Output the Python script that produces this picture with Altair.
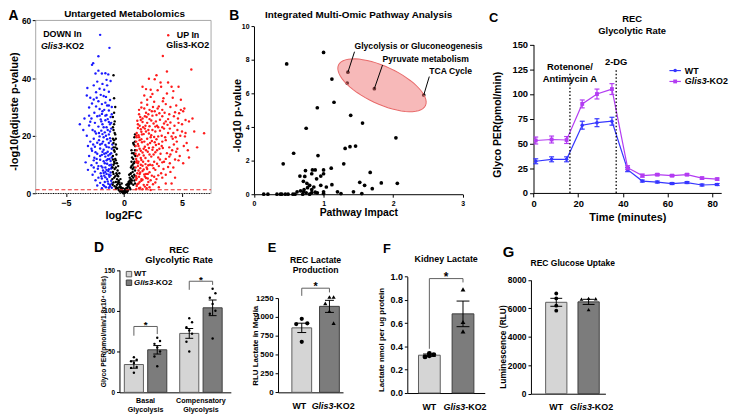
import math
import altair as alt
import pandas as pd

FONT = "Liberation Sans"
W, H = 735, 412
MARGIN = 8
BLUE_PT = "#1c1cff"
RED_PT = "#ff1c1c"
WT_LINE = "#3636ff"
KO_LINE = "#b33cf2"
WT_FILL, WT_EDGE = "#d5d5d5", "#5e5e5e"
KO_FILL, KO_EDGE = "#7c7c7c", "#3e3e3e"
BRACKET = "#606060"

# ---------------- Panel A: volcano (log2FC, -log10 adj p) ----------------
down_points = [
    (-2.05, 55.0), (-1.25, 50.5), (-2.2, 47.6), (-2.65, 45.2), (-2.75, 44.6), (-2.2, 42.6), (-2.45, 41.6), (-1.9, 41.6),
    (-1.6, 41.7), (-1.35, 41.3), (-1.5, 39.4), (-2.3, 38.8), (-1.85, 38.0), (-3.15, 36.6), (-2.1, 36.3), (-1.7, 36.0),
    (-1.3, 35.3), (-2.4, 35.1), (-3.2, 34.0), (-2.9, 33.2), (-2.0, 34.2), (-1.55, 33.5), (-2.6, 32.6), (-2.2, 32.0),
    (-1.2, 32.4), (-2.75, 31.2), (-1.9, 31.0), (-1.45, 30.5), (-2.4, 30.2), (-3.0, 29.8), (-2.1, 29.3), (-1.7, 29.0),
    (-1.3, 28.8), (-2.55, 28.0), (-1.9, 27.6), (-1.5, 27.2), (-3.8, 24.0), (-2.3, 26.8), (-1.15, 26.5), (-2.8, 26.0),
    (-2.0, 25.7), (-1.6, 25.4), (-1.3, 24.8), (-2.5, 24.5), (-1.85, 24.0), (-3.0, 23.6), (-2.2, 23.2), (-1.5, 23.0),
    (-1.1, 22.5), (-2.7, 22.0), (-1.95, 21.8), (-1.65, 21.2), (-2.4, 20.8), (-1.3, 20.5), (-3.2, 20.0), (-2.1, 19.8),
    (-1.75, 19.5), (-2.6, 19.0), (-1.45, 18.8), (-1.15, 18.2), (-2.9, 18.0), (-2.3, 17.6), (-1.9, 17.3), (-1.6, 16.8),
    (-3.1, 16.5), (-2.5, 16.2), (-1.3, 16.0), (-2.05, 15.6), (-1.75, 15.2), (-2.75, 14.8), (-1.4, 14.5), (-1.1, 14.0),
    (-2.3, 13.8), (-1.9, 13.4), (-3.0, 13.0), (-1.6, 12.8), (-2.55, 12.4), (-1.25, 12.0), (-2.05, 11.7), (-1.75, 11.2),
    (-3.3, 10.8), (-2.35, 10.6), (-1.45, 10.3), (-1.1, 10.0), (-2.8, 9.8), (-1.95, 9.5), (-1.6, 9.0), (-2.25, 8.6),
    (-1.3, 8.4), (-3.1, 8.2), (-1.8, 8.0), (-2.5, 7.6), (-1.15, 7.3), (-2.0, 7.0), (-1.5, 6.8), (-2.7, 6.5),
    (-1.7, 6.2), (-1.25, 5.8), (-2.2, 5.5), (-1.9, 5.2), (-1.45, 5.0), (-2.45, 4.6), (-1.1, 4.4), (-1.65, 4.0),
    (-2.05, 3.7), (-1.35, 3.4), (-1.8, 3.0), (-2.3, 2.8), (-1.2, 2.5), (-1.55, 2.2), (-1.05, 2.0), (-1.9, 1.8),
    (-2.6, 11.5), (-2.9, 24.9), (-3.4, 26.0), (-1.05, 30.0), (-1.0, 17.0), (-1.2, 21.5), (-1.35, 13.2), (-2.15, 21.0),
    (-2.45, 14.3), (-1.85, 28.5), (-1.6, 31.5), (-2.05, 17.0), (-2.65, 17.0), (-1.7, 13.8), (-1.4, 25.8), (-1.05, 12.5),
    (-1.95, 6.0), (-1.3, 6.5), (-1.6, 7.5), (-2.2, 9.5), (-1.1, 8.7), (-1.5, 11.5),
    (-1.2, 3.0), (-1.4, 4.2), (-1.6, 5.6), (-1.15, 6.3), (-1.35, 7.8), (-1.75, 7.1), (-1.05, 9.2), (-1.25, 9.8),
    (-1.5, 8.2), (-1.85, 9.0), (-1.15, 11.3), (-1.4, 11.9), (-1.65, 10.5), (-1.2, 13.6), (-1.55, 14.0), (-1.85, 14.5),
    (-1.05, 15.5), (-1.3, 17.5), (-1.5, 16.2), (-1.8, 18.0), (-1.2, 19.2), (-1.55, 20.0), (-1.85, 20.6), (-1.4, 22.0),
    (-1.75, 23.0), (-1.2, 24.0), (-1.6, 27.0), (-1.3, 30.5), (-2.1, 27.0), (-2.5, 21.5), (-2.8, 15.5), (-2.35, 12.0),
    (-2.6, 9.0), (-2.05, 13.0), (-2.15, 18.5), (-1.95, 25.0), (-2.35, 33.2), (-1.75, 33.8), (-1.45, 37.5), (-1.15, 39.0),
    (-2.6, 37.5), (-3.5, 22.0), (-3.0, 27.0), (-1.05, 3.5), (-1.3, 2.0), (-1.7, 2.6), (-1.1, 24.5), (-1.05, 27.5),
]
ns_points = [
    (-0.9, 41.0), (-0.85, 28.0), (-0.95, 26.5), (-0.8, 25.0), (-0.9, 22.0), (-0.75, 20.5), (-0.95, 19.0), (-0.85, 18.5),
    (-0.7, 17.0), (-0.9, 16.0), (-0.8, 14.5), (-0.65, 13.5), (-0.95, 13.0), (-0.75, 12.0), (-0.85, 11.0), (-0.6, 10.5),
    (-0.9, 10.0), (-0.7, 9.0), (-0.8, 8.5), (-0.55, 8.0), (-0.95, 7.5), (-0.65, 7.0), (-0.75, 6.0), (-0.5, 6.0),
    (-0.85, 5.5), (-0.6, 5.0), (-0.45, 4.5), (-0.7, 4.0), (-0.9, 3.8), (-0.5, 3.5), (-0.35, 3.0), (-0.6, 3.0),
    (-0.8, 2.5), (-0.4, 2.2), (-0.25, 2.0), (-0.55, 1.8), (-0.3, 1.4), (-0.15, 1.0), (-0.45, 1.2), (-0.7, 1.6),
    (-0.2, 0.6), (-0.1, 0.4), (0.0, 0.2), (-0.05, 0.1), (0.05, 0.3), (0.1, 0.5), (0.15, 0.8), (0.2, 1.0),
    (0.25, 1.5), (0.3, 2.0), (0.35, 1.2), (0.4, 2.6), (0.45, 3.2), (0.5, 2.0), (0.55, 4.0), (0.6, 5.0),
    (0.65, 3.5), (0.7, 6.0), (0.75, 7.5), (0.8, 5.5), (0.85, 9.0), (0.9, 11.0), (0.95, 8.0), (0.7, 12.5),
    (0.85, 14.0), (0.95, 16.5), (0.8, 17.5), (0.9, 19.5), (0.95, 20.5), (0.75, 10.0), (0.6, 7.0), (0.5, 5.5),
    (0.4, 4.0), (0.9, 4.5), (0.98, 13.0), (-0.98, 9.0), (-1.0, 5.0), (-0.65, 2.2), (0.3, 0.8), (-0.35, 0.7),
    (0.55, 1.5), (0.88, 6.5), (0.65, 9.5), (-0.5, 9.5), (-0.4, 7.0), (-0.3, 5.0), (0.2, 3.0), (-0.2, 3.5),
    (0.45, 6.5), (-0.85, 33.0), (-0.75, 30.0), (-0.6, 15.5), (0.65, 15.0), (0.8, 3.0), (-0.1, 1.8), (0.1, 1.6),
    (-0.9, 6.8), (-0.8, 10.5), (-0.7, 11.5), (-0.95, 11.8), (-0.85, 15.0), (-0.75, 16.0), (-0.9, 17.5), (-0.8, 21.0),
    (-0.7, 19.0), (-0.95, 23.0), (-0.85, 24.0), (-0.6, 6.5), (-0.5, 4.0), (-0.4, 3.8), (-0.3, 2.4), (-0.2, 1.3),
    (-0.1, 0.9), (0.0, 0.6), (0.1, 1.1), (0.2, 1.8), (0.3, 3.3), (0.4, 3.4), (0.5, 4.5), (0.6, 3.8),
    (0.7, 4.5), (0.75, 8.5), (0.85, 10.5), (0.9, 13.5), (0.8, 12.0), (0.95, 15.0), (0.85, 17.0), (0.95, 18.0),
    (0.7, 14.0), (0.6, 9.0), (0.55, 6.8), (0.65, 11.0), (0.35, 2.5), (0.25, 0.5), (-0.25, 0.9), (0.95, 3.5),
    (0.98, 6.0), (-0.97, 3.0),
]
up_points = [
    (3.35, 47.7), (5.8, 43.0), (3.7, 42.3), (2.15, 39.8), (2.65, 39.6), (3.2, 37.0), (4.1, 37.0), (4.7, 37.0),
    (1.75, 34.0), (2.3, 33.5), (3.7, 34.7), (4.2, 33.2), (6.9, 20.9), (6.05, 21.5), (4.4, 5.5),
    (2.9, 35.8), (3.4, 33.0), (1.5, 31.5), (2.0, 30.8), (2.6, 31.8), (3.0, 30.2), (3.6, 31.0), (4.5, 30.5),
    (4.9, 29.0), (5.1, 28.5), (4.75, 27.8), (3.3, 29.0), (2.4, 28.5), (1.9, 28.0), (1.3, 27.5), (2.8, 27.2),
    (3.9, 27.5), (4.3, 26.8), (5.3, 25.5), (1.6, 26.0), (2.2, 25.8), (3.1, 25.6), (3.6, 25.0), (4.0, 24.6),
    (2.55, 24.3), (1.2, 24.0), (1.85, 23.5), (2.95, 23.0), (3.45, 22.5), (4.6, 22.0), (5.0, 21.5), (4.85, 20.0),
    (5.25, 19.8), (4.45, 19.5), (1.45, 22.3), (2.1, 22.0), (2.7, 21.5), (3.8, 21.0), (1.1, 21.0), (1.7, 20.6),
    (2.35, 20.2), (3.25, 20.0), (4.1, 19.8), (1.3, 19.5), (2.0, 19.0), (2.8, 18.8), (3.6, 18.5), (1.05, 18.0),
    (1.55, 17.8), (2.25, 17.5), (3.0, 17.2), (4.3, 17.0), (5.4, 17.5), (5.5, 15.0), (1.25, 16.5), (1.8, 16.2),
    (2.5, 16.0), (3.35, 15.8), (3.9, 16.0), (4.6, 15.5), (1.1, 15.0), (1.45, 14.8), (2.05, 14.5), (2.7, 14.3),
    (3.15, 13.8), (4.0, 13.5), (4.8, 13.0), (1.3, 13.5), (1.7, 13.2), (2.35, 12.8), (2.95, 12.5), (3.6, 12.0),
    (4.4, 11.8), (1.05, 12.0), (1.5, 11.6), (2.1, 11.3), (2.6, 11.0), (3.3, 10.8), (1.2, 10.5), (1.85, 10.2),
    (2.45, 9.8), (3.0, 9.5), (3.8, 9.2), (1.0, 9.0), (1.4, 8.8), (2.0, 8.5), (2.7, 8.2), (1.6, 7.8),
    (2.2, 7.4), (3.2, 7.0), (1.15, 7.0), (1.75, 6.6), (2.4, 6.2), (1.3, 5.8), (1.9, 5.4), (2.8, 5.0),
    (1.05, 4.8), (1.5, 4.4), (2.1, 4.0), (1.25, 3.5), (1.7, 3.0), (2.5, 3.2), (1.1, 2.6), (1.4, 2.0),
    (1.95, 1.8), (1.05, 1.5), (2.3, 1.2), (3.6, 3.5), (3.0, 2.2), (1.6, 24.8), (1.95, 26.5), (2.45, 27.0),
    (3.5, 28.0), (4.65, 26.0), (5.0, 24.0), (4.35, 23.5), (3.75, 23.8), (2.6, 19.6), (3.1, 21.8), (1.35, 18.5),
    (1.9, 21.5), (1.15, 13.0), (1.25, 11.0), (1.6, 9.6), (1.85, 12.3), (2.15, 15.8), (2.4, 18.2), (2.85, 15.0),
    (1.0, 16.5), (1.35, 6.8), (1.5, 5.0), (1.1, 19.5), (1.2, 22.7), (1.4, 26.5), (1.75, 29.5), (2.0, 32.5),
    (2.5, 30.0), (2.75, 25.0), (3.05, 27.8), (3.45, 24.3), (3.95, 22.5), (4.25, 21.0), (4.55, 18.0), (4.15, 15.0),
    (3.7, 14.0), (3.45, 11.0), (3.95, 10.5), (4.25, 9.0), (4.7, 11.5), (5.15, 16.5), (5.6, 25.0), (5.2, 29.5),
    (4.0, 30.0), (3.35, 32.0), (2.3, 36.0), (1.6, 37.0), (2.8, 41.0), (1.7, 15.5), (1.45, 10.0), (1.05, 6.0),
    (1.25, 8.0), (2.05, 6.8), (2.55, 13.5), (3.25, 16.5), (3.55, 19.5), (2.2, 23.3), (1.55, 20.5), (1.3, 29.0),
    (5.9, 26.0), (6.3, 16.0),
    (1.15, 3.2), (1.35, 4.0), (1.6, 4.8), (1.8, 5.9), (2.05, 5.2), (2.3, 4.6), (2.6, 5.8), (1.2, 9.5),
    (1.45, 12.3), (1.65, 11.0), (1.95, 9.0), (2.25, 10.0), (2.55, 8.8), (2.85, 10.3), (3.1, 11.8), (1.1, 11.3),
    (1.35, 15.5), (1.6, 14.2), (1.9, 15.0), (2.2, 13.5), (2.45, 15.2), (2.75, 16.8), (3.05, 15.5), (1.2, 17.2),
    (1.5, 18.8), (1.75, 18.0), (2.05, 17.0), (2.3, 19.5), (2.65, 17.8), (2.95, 19.8), (3.3, 18.0), (1.25, 20.2),
    (1.5, 21.4), (1.8, 22.5), (2.15, 20.8), (2.45, 22.0), (2.85, 23.5), (3.3, 23.0), (1.35, 23.5), (1.65, 23.0),
    (2.0, 24.5), (2.35, 25.3), (2.7, 23.2), (1.45, 25.5), (1.8, 26.8), (2.1, 27.5), (2.65, 28.5), (1.5, 29.8),
    (2.2, 29.0), (2.9, 29.5), (1.05, 10.8), (1.0, 13.8), (1.05, 20.0), (1.15, 25.2), (1.1, 5.3), (1.3, 1.8),
    (1.6, 1.5), (1.8, 2.4), (2.0, 3.0), (2.2, 2.2), (2.7, 3.8), (3.3, 5.5), (3.4, 8.5), (3.6, 6.5),
    (4.0, 7.5), (3.9, 12.8), (4.5, 14.5), (4.2, 19.0), (4.7, 24.5), (3.8, 25.8), (3.3, 26.8), (4.4, 28.2),
    (4.9, 32.5), (4.25, 35.5), (3.15, 38.5), (2.45, 34.5), (1.9, 36.2), (3.8, 38.5), (5.3, 21.0), (5.6, 12.5),
    (5.1, 10.5), (4.1, 3.5), (2.95, 6.3), (2.1, 9.8), (1.7, 8.3), (1.4, 7.3), (1.9, 6.8),
]
p_cutoff = 0.05
A_XDOM = [-7.6, 7.5]
A_YDOM = [0, 60]

# ---------------- Panel B: pathway impact vs -log10 p ----------------
path_impact = [1.0, 0.47, 1.12, 1.34, 1.15, 0.91, 1.39, 1.56, 0.75, 2.04, 1.46, 1.38, 1.31, 0.57, 0.92,
               0.42, 1.29, 1.11, 1.67, 1.0, 1.0, 0.84, 0.88, 0.74, 0.66, 0.73, 0.96, 0.83, 0.9, 0.71,
               0.76, 0.8, 0.77, 0.72, 0.67, 1.52, 1.59, 1.83, 2.06, 1.7, 1.12, 1.04, 0.96, 0.86, 0.83,
               0.88, 0.91, 1.0, 1.0, 1.2, 1.25, 1.43, 1.55, 0.14, 0.2, 0.33, 0.38, 0.4, 0.45, 0.49,
               0.56, 0.59, 0.62, 0.7, 0.75, 0.8, 0.83, 0.71]
path_neglogp = [8.45, 7.76, 6.86, 6.62, 5.48, 5.15, 4.70, 4.24, 3.93, 3.36, 2.87, 2.83, 2.73, 2.44, 2.30,
                1.81, 1.81, 1.55, 1.30, 1.45, 1.22, 1.45, 1.45, 1.41, 1.08, 1.06, 1.08, 1.22, 0.92, 0.77,
                0.65, 0.53, 0.39, 0.28, 0.20, 0.71, 0.53, 0.67, 0.65, 0.33, 0.57, 0.43, 0.53, 0.43, 0.28,
                0.12, 0.08, 0.14, 0.04, 0.14, 0.04, 0.14, 0.04, 0.0, 0.0, 0.0, 0.0, 0.0, 0.0, 0.0,
                0.0, 0.0, 0.14, 0.0, 0.08, 0.0, 0.1, 0.14]
hl_names = ["Glycolysis or Gluconeogenesis", "Pyruvate metabolism", "TCA Cycle"]
hl_impact = [1.35, 1.73, 2.44]
hl_neglogp = [7.27, 6.29, 5.91]
hl_label_impact = [1.445, 1.848, 2.52]
hl_label_neglogp = [8.49, 7.70, 7.01]

# ---------------- Panel C: glycolytic rate time course ----------------
c_time = [1.0, 8.1, 14.8, 21.8, 28.4, 35.1, 42.1, 48.7, 55.4, 62.0, 68.7, 75.4, 82.2]
c_wt = [32, 34, 34, 68.5, 71, 72.5, 23.5, 12, 11, 9.5, 10.5, 8, 8.5]
c_wt_sem = [2.5, 2.5, 2.5, 4, 4, 4, 2, 1, 1, 1, 1, 1, 1]
c_ko = [53, 54, 53.5, 90, 100, 105, 25.5, 17.5, 18.5, 17.5, 18.5, 15, 14]
c_ko_sem = [3.5, 3.5, 3.5, 4, 5, 5.5, 2, 1.5, 1, 1, 1, 1, 1]
inj_names = ["Rotenone/\nAntimycin A", "2-DG"]
inj_time = [16.3, 37.0]
inj_top = [121, 126]

# ---------------- Panel D ----------------
d_groups = ["Basal\nGlycolysis", "Compensatory\nGlycolysis"]
d_wt_mean = [34.1, 72.3]
d_wt_sem = [4.5, 6.0]
d_ko_mean = [52.2, 103.7]
d_ko_sem = [5.2, 9.6]
d_wt_pts = [[43, 40, 38, 36, 31, 30, 24], [91, 86, 80, 76, 72, 62, 50]]
d_ko_pts = [[67, 63, 59.5, 55, 50, 44, 32], [127, 121.5, 116, 108.5, 100, 96.5, 66]]
d_brackets = [(80.8, 69.5, 71.5), (136.3, 125.8, 131.8)]

# ---------------- Panel E ----------------
e_wt_mean, e_wt_sem = [855], [62]
e_ko_mean, e_ko_sem = [1140], [80]
e_wt_pts = [[975, 915, 905, 670]]
e_ko_pts = [[1265, 1265, 1180, 1075, 918]]
e_brackets = [(1381, 1280, 1325)]

# ---------------- Panel F ----------------
f_wt_mean, f_wt_sem = [0.325], [0.01]
f_ko_mean, f_ko_sem = [0.68], [0.11]
f_wt_pts = [[0.34, 0.33, 0.31, 0.32]]
f_ko_pts = [[0.89, 0.61, 0.53]]
f_brackets = [(0.983, 0.38, 0.95)]

# ---------------- Panel G ----------------
g_wt_mean, g_wt_sem = [6430], [280]
g_ko_mean, g_ko_sem = [6460], [180]
g_wt_pts = [[7050, 6700, 6190, 5840]]
g_ko_pts = [[6700, 6680, 6650, 5910]]
g_brackets = []


def pg(v):
    return v - MARGIN


DUMMY = pd.DataFrame({"k": [0]})


def ax(**kw):
    base = dict(grid=False, domainColor="black", tickColor="black", labelColor="black",
                titleColor="black", labelFont=FONT, titleFont=FONT, labelFontWeight="bold",
                titleFontWeight="bold", labelFlush=False, labelOverlap=False, tickSize=4,
                labelPadding=2, titlePadding=4)
    base.update(kw)
    return alt.Axis(**base)


def qs(domain, rng):
    return alt.Scale(domain=domain, range=rng, nice=False, zero=False, padding=0)


def txt(text, x, y, size, align="center", baseline="middle", style="normal", weight="bold",
        color="black", lh=None):
    kw = dict(text=text, align=align, baseline=baseline, fontSize=size, fontWeight=weight,
              fontStyle=style, font=FONT, color=color)
    if "\n" in text:
        kw["lineBreak"] = "\n"
        kw["lineHeight"] = lh or size * 1.2
    return alt.Chart(DUMMY).mark_text(**kw).encode(x=alt.value(pg(x)), y=alt.value(pg(y)))


# ======================= Panel A =======================
vol = pd.DataFrame({
    "fc": [p[0] for p in down_points] + [p[0] for p in ns_points] + [p[0] for p in up_points],
    "nlp": [p[1] for p in down_points] + [p[1] for p in ns_points] + [p[1] for p in up_points],
    "cls": ["down"] * len(down_points) + ["ns"] * len(ns_points) + ["up"] * len(up_points),
})
xA = qs(A_XDOM, [pg(36), pg(213.3)])
yA = qs(A_YDOM, [pg(193.3), pg(18.3)])
axAx = ax(orient="bottom", offset=pg(193.3) - H, values=[-5, 0, 5], title="log2FC", labelFontSize=9,
          titleFontSize=11, domain=False, tickSize=3, titleY=22, titleBaseline="middle")
axAy = ax(orient="left", offset=-pg(36), values=[0, 20, 40, 60], title="-log10(adjuste p-value)",
          labelFontSize=8.5, titleFontSize=11, domain=False, tickSize=3.5, labelPadding=1.5,
          titleX=-21, titleY=pg(110), titleBaseline="middle")


def XA(f):
    return alt.X(f, scale=xA, axis=axAx)


def YA(f):
    return alt.Y(f, scale=yA, axis=axAy)


a_box = pd.DataFrame({"x0": [A_XDOM[0]], "x1": [A_XDOM[1]], "y0": [A_YDOM[0]], "y1": [A_YDOM[1]],
                      "thr": [-math.log10(p_cutoff)]})
A_frame = alt.Chart(a_box).mark_rect(fillOpacity=0, stroke="#a8a8a8", strokeWidth=1).encode(
    x=XA("x0:Q"), x2="x1:Q", y=YA("y0:Q"), y2="y1:Q")
A_pts = alt.Chart(vol).mark_circle(size=6, opacity=1).encode(
    x=XA("fc:Q"), y=YA("nlp:Q"),
    color=alt.Color("cls:N", scale=alt.Scale(domain=["down", "ns", "up"], range=[BLUE_PT, "black", RED_PT]),
                    legend=None))
A_zero = alt.Chart(a_box).mark_rule(color="black", strokeDash=[1, 1.5], strokeWidth=1).encode(
    x=XA("x0:Q"), x2="x1:Q", y=YA("y0:Q"))
A_thr = alt.Chart(a_box).mark_rule(color="#ee2a2a", strokeDash=[4, 2.5], strokeWidth=1.2).encode(
    x=XA("x0:Q"), x2="x1:Q", y=YA("thr:Q"))
panelA = alt.layer(A_frame, A_pts, A_zero, A_thr)

# ======================= Panel B =======================
pb = pd.DataFrame({"impact": path_impact + hl_impact, "nlp": path_neglogp + hl_neglogp})
hl = pd.DataFrame({"name": hl_names, "impact": hl_impact, "nlp": hl_neglogp,
                   "lx": hl_label_impact, "ly": hl_label_neglogp})
xB = qs([0, 3], [pg(256.7), pg(467.7)])
yB = qs([0, 10], [pg(194), pg(24.3)])
axBx = ax(orient="bottom", offset=pg(194) - H, values=[0, 1, 2, 3], title="Pathway Impact", labelFontSize=7,
          titleFontSize=10.5, tickSize=3, titleY=19, titleBaseline="middle")
axBy = ax(orient="left", offset=-pg(256.7), values=[0, 2, 4, 6, 8, 10], title="-log10 p-value",
          labelFontSize=7, titleFontSize=11, tickSize=3, titleX=-16.7, titleY=pg(114), titleBaseline="middle")


def XB(f):
    return alt.X(f, scale=xB, axis=axBx)


def YB(f):
    return alt.Y(f, scale=yB, axis=axBy)


B_pts = alt.Chart(pb).mark_circle(size=14, color="black", opacity=1).encode(x=XB("impact:Q"), y=YB("nlp:Q"))
ELL_RATIO = 0.39
ell_path = "M" + " L".join(
    f"{math.cos(2 * math.pi * i / 60):.4f},{ELL_RATIO * math.sin(2 * math.pi * i / 60):.4f}" for i in range(60)
) + " Z"
B_ell = alt.Chart(hl).transform_aggregate(mx="mean(impact)", my="mean(nlp)").mark_point(
    shape=ell_path, size=9409, angle=25, filled=True, fill="#f07474", fillOpacity=0.5,
    stroke="#e86a6a", strokeWidth=1, opacity=1).encode(x=XB("mx:Q"), y=YB("my:Q"))
B_lead = alt.Chart(hl).mark_rule(color="black", strokeWidth=1).encode(
    x=XB("impact:Q"), y=YB("nlp:Q"), x2="lx:Q", y2="ly:Q")
B_lab = alt.Chart(hl).mark_text(align="left", baseline="bottom", dy=-1, fontSize=8.7,
                                fontWeight="bold", font=FONT, color="black").encode(
    x=XB("lx:Q"), y=YB("ly:Q"), text="name:N")
panelB = alt.layer(B_pts, B_ell, B_lead, B_lab)

# ======================= Panel C =======================
n_t = len(c_time)
cdf = pd.DataFrame({"t": c_time * 2, "v": c_wt + c_ko, "sem": c_wt_sem + c_ko_sem,
                    "g": ["WT"] * n_t + ["KO"] * n_t})
xC = qs([0, 84], [pg(539.3), pg(539.3 + 84 * 2.259)])
yC = qs([0, 150], [pg(192.7), pg(42.7)])
axCx = ax(orient="bottom", offset=pg(192.7) - H, values=[0, 20, 40, 60, 80], title="Time (minutes)",
          labelFontSize=9.5, titleFontSize=11, titleY=24.6, titleBaseline="middle")
axCy = ax(orient="left", offset=-pg(539.3), values=[0, 25, 50, 75, 100, 125, 150], title="Glyco PER(pmol/min)",
          labelFontSize=9.5, titleFontSize=10.5, titleX=-36.3, titleY=pg(123.3), titleBaseline="middle")


def XC(f):
    return alt.X(f, scale=xC, axis=axCx)


def YC(f):
    return alt.Y(f, scale=yC, axis=axCy)


C_layers = []
for g, col, shp, sz in [("WT", WT_LINE, "circle", 13), ("KO", KO_LINE, "square", 15)]:
    base = alt.Chart(cdf).transform_filter(alt.datum.g == g).transform_calculate(
        lo="datum.v - datum.sem", hi="datum.v + datum.sem")
    C_layers.append(base.mark_line(color=col, strokeWidth=1.2).encode(x=XC("t:Q"), y=YC("v:Q")))
    C_layers.append(base.mark_rule(color=col, strokeWidth=1.2).encode(x=XC("t:Q"), y=YC("lo:Q"), y2="hi:Q"))
    for f in ["lo", "hi"]:
        C_layers.append(base.mark_tick(orient="horizontal", size=5, thickness=1.2, color=col, opacity=1).encode(
            x=XC("t:Q"), y=YC(f + ":Q")))
    C_layers.append(base.mark_point(shape=shp, filled=True, size=sz, color=col, opacity=1).encode(
        x=XC("t:Q"), y=YC("v:Q")))
inj = pd.DataFrame({"name": inj_names, "t": inj_time, "top": inj_top, "bottom": [0, 0]})
C_layers.append(alt.Chart(inj).mark_rule(color="black", strokeDash=[1.5, 2], strokeWidth=1.3).encode(
    x=XC("t:Q"), y=YC("bottom:Q"), y2="top:Q"))
C_layers.append(alt.Chart(inj).mark_text(baseline="bottom", dy=-1, fontSize=9.5, fontWeight="bold",
                                         font=FONT, lineBreak="\n", lineHeight=11.7, color="black").encode(
    x=XC("t:Q"), y=YC("top:Q"), text="name:N"))
panelC = alt.layer(*C_layers)


# ======================= Bar panels D-G =======================
def bar_panel(cfg):
    step = cfg["step"]
    pos_expr = f"datum.gi * {step} + (datum.geno == 'WT' ? 0 : 1)"
    xs = qs(cfg["xdom"], [pg(cfg["xpx"][0]), pg(cfg["xpx"][1])])
    ys = qs(cfg["ydom"], [pg(cfg["ypx"][0]), pg(cfg["ypx"][1])])
    ng = len(cfg["wt_mean"])
    bars = pd.DataFrame(
        [dict(gi=i, geno="WT", mean=cfg["wt_mean"][i], sem=cfg["wt_sem"][i]) for i in range(ng)]
        + [dict(gi=i, geno="KO", mean=cfg["ko_mean"][i], sem=cfg["ko_sem"][i]) for i in range(ng)])
    pts = pd.DataFrame(
        [dict(gi=i, geno="WT", val=v) for i in range(ng) for v in cfg["wt_pts"][i]]
        + [dict(gi=i, geno="KO", val=v) for i in range(ng) for v in cfg["ko_pts"][i]])
    is_wt = alt.datum.geno == "WT"
    yax_kw = dict(orient="left", offset=-pg(cfg["xpx"][0]), values=cfg["yvals"], format=cfg["yfmt"],
                  title=cfg["ytitle"], labelFontSize=cfg["ylab"], titleFontSize=cfg["ytit"], tickSize=3,
                  titleX=cfg["titleX"], titleBaseline="middle")
    if "titleY" in cfg:
        yax_kw["titleY"] = pg(cfg["titleY"])
    xaxis = ax(orient="bottom", offset=pg(cfg["ypx"][0]) - H, labels=False, ticks=False, title="")
    yaxis = ax(**yax_kw)

    def X(f):
        return alt.X(f, scale=xs, axis=xaxis)

    def Y(f):
        return alt.Y(f, scale=ys, axis=yaxis)

    layers = []
    bb = alt.Chart(bars).transform_calculate(pos=pos_expr, lo="datum.mean - datum.sem",
                                             hi="datum.mean + datum.sem")
    layers.append(bb.mark_bar(width=cfg["bar_w"], strokeWidth=1).encode(
        x=X("pos:Q"), y=Y("mean:Q"),
        fill=alt.condition(is_wt, alt.value(WT_FILL), alt.value(KO_FILL)),
        stroke=alt.condition(is_wt, alt.value(WT_EDGE), alt.value(KO_EDGE))))
    layers.append(bb.mark_rule(color="black", strokeWidth=1).encode(x=X("pos:Q"), y=Y("lo:Q"), y2="hi:Q"))
    for f in ["lo", "hi"]:
        layers.append(bb.mark_tick(orient="horizontal", size=cfg["cap_w"], thickness=1, color="black",
                                   opacity=1).encode(x=X("pos:Q"), y=Y(f + ":Q")))
    sw, sk = cfg["spread"]
    layers.append(alt.Chart(pts).transform_window(rank="row_number()", groupby=["gi", "geno"])
                  .transform_calculate(pos=pos_expr)
                  .transform_calculate(xj=f"datum.pos + ((datum.rank % 3) - 1) * (datum.geno == 'WT' ? {sw} : {sk})")
                  .mark_point(filled=True, size=cfg["pt_size"], color="black", opacity=1).encode(
        x=X("xj:Q"), y=Y("val:Q"),
        shape=alt.condition(is_wt, alt.value(cfg["shapes"][0]), alt.value(cfg["shapes"][1]))))
    if cfg["brackets"]:
        brk = pd.DataFrame([dict(gi=i, top=b[0], lend=b[1], rend=b[2]) for i, b in enumerate(cfg["brackets"])])
        bk = alt.Chart(brk).transform_calculate(x1=f"datum.gi * {step}", x2=f"datum.gi * {step} + 1",
                                                xm=f"datum.gi * {step} + 0.5")
        layers.append(bk.mark_rule(color=BRACKET, strokeWidth=1).encode(x=X("x1:Q"), x2="x2:Q", y=Y("top:Q")))
        layers.append(bk.mark_rule(color=BRACKET, strokeWidth=1).encode(x=X("x1:Q"), y=Y("lend:Q"), y2="top:Q"))
        layers.append(bk.mark_rule(color=BRACKET, strokeWidth=1).encode(x=X("x2:Q"), y=Y("rend:Q"), y2="top:Q"))
        layers.append(bk.mark_text(text="*", fontSize=cfg["star"], fontWeight="bold", font=FONT,
                                   baseline="alphabetic", dy=cfg["star_dy"], color="black").encode(
            x=X("xm:Q"), y=Y("top:Q")))
    if cfg.get("groups"):
        gl = pd.DataFrame({"gi": list(range(ng)), "name": cfg["groups"]})
        layers.append(alt.Chart(gl).transform_calculate(xm=f"datum.gi * {step} + 0.5").mark_text(
            baseline="top", fontSize=cfg["xlab"], fontWeight="bold", font=FONT, lineBreak="\n",
            lineHeight=9.4, color="black").encode(
            x=X("xm:Q"), y=alt.value(pg(cfg["lab_y"])), text="name:N"))
    else:
        gl = pd.DataFrame([dict(gi=0, geno="WT"), dict(gi=0, geno="KO")])
        gbase = alt.Chart(gl).transform_calculate(pos=pos_expr)
        common = dict(fontSize=cfg["xlab"], fontWeight="bold", font=FONT, baseline="middle", color="black")
        wdx, kdx = cfg["lab_dx"]
        layers.append(gbase.transform_filter(is_wt).mark_text(text="WT", align="center", dx=wdx, **common).encode(
            x=X("pos:Q"), y=alt.value(pg(cfg["lab_y"]))))
        layers.append(gbase.transform_filter(alt.datum.geno == "KO").mark_text(
            text="Glis3", align="right", fontStyle="italic", dx=kdx, **common).encode(
            x=X("pos:Q"), y=alt.value(pg(cfg["lab_y"]))))
        layers.append(gbase.transform_filter(alt.datum.geno == "KO").mark_text(
            text="-KO2", align="left", dx=kdx, **common).encode(
            x=X("pos:Q"), y=alt.value(pg(cfg["lab_y"]))))
    return alt.layer(*layers)


panelD = bar_panel(dict(
    step=2.37, xdom=[-0.617, 4.15], xpx=[120.7, 233.3], ydom=[0, 150], ypx=[394.3, 270.7],
    yvals=[0, 50, 100, 150], yfmt="d", ytitle="Glyco PER(pmol/min/1.8x10\u2074 cells)", ylab=6.5, ytit=6.8,
    titleX=-16.4, wt_mean=d_wt_mean, wt_sem=d_wt_sem, ko_mean=d_ko_mean, ko_sem=d_ko_sem,
    wt_pts=d_wt_pts, ko_pts=d_ko_pts, brackets=d_brackets, bar_w=19.3, cap_w=8, pt_size=6,
    shapes=["circle", "circle"], spread=(0.12, 0.12), star=10, star_dy=1.5, groups=d_groups,
    xlab=7.2, lab_y=399.2))
panelE = bar_panel(dict(
    step=1, xdom=[-0.857, 1.49], xpx=[281, 346.7], ydom=[0, 1250], ypx=[394.3, 299],
    yvals=[0, 250, 500, 750, 1000, 1250], yfmt="d", ytitle="RLU Lactate in Media", ylab=8, ytit=8,
    titleX=-22.7, wt_mean=e_wt_mean, wt_sem=e_wt_sem, ko_mean=e_ko_mean, ko_sem=e_ko_sem,
    wt_pts=e_wt_pts, ko_pts=e_ko_pts, brackets=e_brackets, bar_w=20, cap_w=9, pt_size=18,
    shapes=["circle", "triangle-up"], spread=(0.2, 0.15), star=11, star_dy=1.5, xlab=9, lab_y=408.4,
    lab_dx=(-2.5, 4)))
panelF = bar_panel(dict(
    step=1, xdom=[-0.656, 1.647], xpx=[411.7, 490], ydom=[0, 1.0], ypx=[395, 277.3],
    yvals=[0, 0.2, 0.4, 0.6, 0.8, 1.0], yfmt=".1f", ytitle="Lactate nmol per ug protein", ylab=9, ytit=8,
    titleX=-25.7, titleY=340.8, wt_mean=f_wt_mean, wt_sem=f_wt_sem, ko_mean=f_ko_mean, ko_sem=f_ko_sem,
    wt_pts=f_wt_pts, ko_pts=f_ko_pts, brackets=f_brackets, bar_w=22, cap_w=13, pt_size=24,
    shapes=["circle", "triangle-up"], spread=(0.13, 0.0), star=12, star_dy=2, xlab=9, lab_y=408.7,
    lab_dx=(0, 2.3)))
panelG = bar_panel(dict(
    step=1, xdom=[-0.783, 1.52], xpx=[536.7, 612], ydom=[0, 8000], ypx=[395.7, 280.7],
    yvals=[0, 2000, 4000, 6000, 8000], yfmt="d", ytitle="Luminescence (RLU)", ylab=8.5, ytit=8.5,
    titleX=-28.4, titleY=348, wt_mean=g_wt_mean, wt_sem=g_wt_sem, ko_mean=g_ko_mean, ko_sem=g_ko_sem,
    wt_pts=g_wt_pts, ko_pts=g_ko_pts, brackets=g_brackets, bar_w=21.5, cap_w=12, pt_size=15,
    shapes=["circle", "triangle-up"], spread=(0.0, 0.22), star=11, star_dy=1.5, xlab=9, lab_y=408.7,
    lab_dx=(0, 3.3)))

# ======================= Titles, letters, legends =======================
ann = [
    txt("A", 13.5, 13.5, 14), txt("B", 236.7, 13.5, 14), txt("C", 499, 16, 13), txt("D", 100, 248, 14),
    txt("E", 275, 248, 13), txt("F", 391, 249, 13), txt("G", 514, 252.5, 15),
    txt("Untargeted Metabolomics", 125.8, 12.3, 10),
    txt("Integrated Multi-Omic Pathway Analysis", 362.5, 12.5, 10),
    txt("REC", 639, 17.3, 9.5), txt("Glycolytic Rate", 639, 29.3, 9.5),
    txt("REC", 181, 250.5, 9.5), txt("Glycolytic Rate", 181, 260.7, 9.5),
    txt("REC Lactate", 319, 260.7, 8.8), txt("Production", 319, 270.7, 8.8),
    txt("Kidney Lactate", 451, 259.3, 9),
    txt("REC Glucose Uptake", 579, 264, 8.6),
    txt("DOWN In", 63, 32.5, 9), txt("Glis3", 63.3, 44.3, 9, align="right", style="italic"),
    txt("-KO2", 63.3, 44.3, 9, align="left"),
    txt("UP In", 190, 33.3, 9), txt("Glis3-KO2", 189.7, 43.5, 9),
    alt.Chart(DUMMY).mark_circle(size=6, color=RED_PT, opacity=1).encode(
        x=alt.value(pg(170)), y=alt.value(pg(33.3))),
    alt.Chart(DUMMY).mark_rule(color=WT_LINE, strokeWidth=1.2).encode(
        x=alt.value(pg(676.7)), x2=alt.value(pg(688.3)), y=alt.value(pg(69))),
    alt.Chart(DUMMY).mark_point(shape="circle", filled=True, size=13, color=WT_LINE, opacity=1).encode(
        x=alt.value(pg(682.5)), y=alt.value(pg(69))),
    alt.Chart(DUMMY).mark_rule(color=KO_LINE, strokeWidth=1.2).encode(
        x=alt.value(pg(676.7)), x2=alt.value(pg(688.3)), y=alt.value(pg(80))),
    alt.Chart(DUMMY).mark_point(shape="square", filled=True, size=15, color=KO_LINE, opacity=1).encode(
        x=alt.value(pg(682.5)), y=alt.value(pg(80))),
    txt("WT", 692.3, 69, 9, align="left"),
    txt("Glis3", 714.3, 80, 9, align="right", style="italic"), txt("-KO2", 714.3, 80, 9, align="left"),
    alt.Chart(DUMMY).mark_square(size=30, fill=WT_FILL, stroke=WT_EDGE, strokeWidth=1, opacity=1).encode(
        x=alt.value(pg(130.3)), y=alt.value(pg(274.8))),
    alt.Chart(DUMMY).mark_square(size=30, fill=KO_FILL, stroke=KO_EDGE, strokeWidth=1, opacity=1).encode(
        x=alt.value(pg(130.3)), y=alt.value(pg(283.5))),
    txt("WT", 135.5, 274.8, 8, align="left"),
    txt("Glis3", 155, 283.5, 8, align="right", style="italic"), txt("-KO2", 155, 283.5, 8, align="left"),
]
annotations = alt.layer(*ann)

chart = alt.layer(panelA, panelB, panelC, panelD, panelE, panelF, panelG, annotations).resolve_scale(
    x="independent", y="independent"
).properties(
    width=W, height=H, autosize=alt.AutoSizeParams(type="none"), padding=0, background="white"
).configure_view(strokeWidth=0)

chart.save("out.html", embed_options={"renderer": "svg", "actions": False})
